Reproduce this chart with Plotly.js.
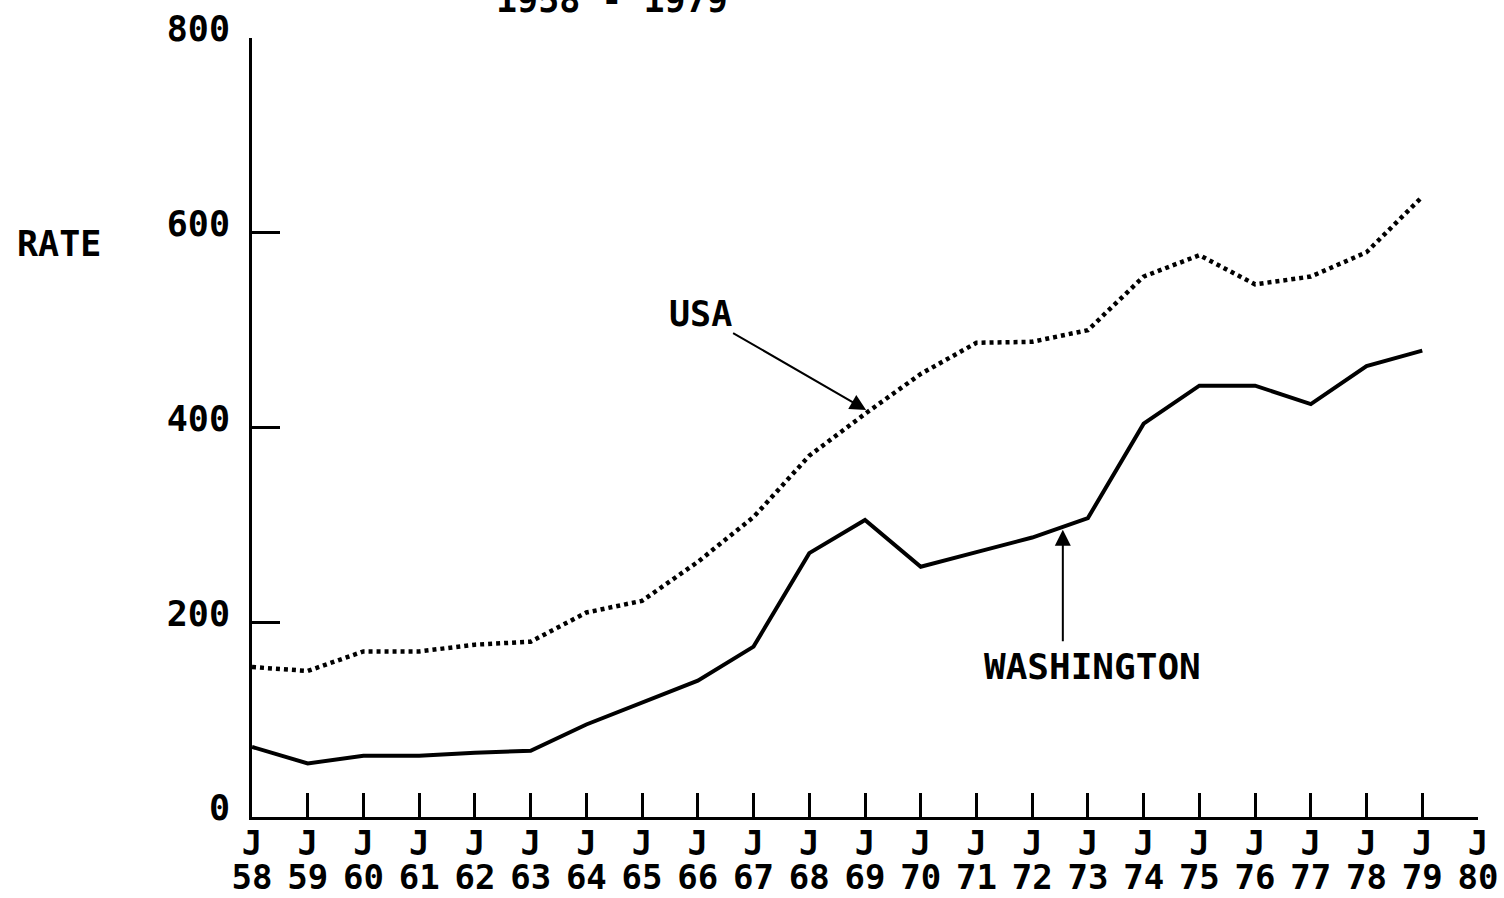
<!DOCTYPE html>
<html>
<head>
<meta charset="utf-8">
<script src="https://cdn.plot.ly/plotly-3.0.1.min.js"></script>
<style>html,body{margin:0;padding:0;background:#fff;}#chart{width:1504px;height:898px;}</style>
</head>
<body>
<div id="chart"></div>
<script>
const years = [58,59,60,61,62,63,64,65,66,67,68,69,70,71,72,73,74,75,76,77,78,79];
const usaRate = [154,150,170,170,177,180,210,222,262,308,371,414,455,487,488,500,555,577,547,555,580,637];
const washingtonRate = [72,55,63,63,66,68,95,118,140,175,271,305,257,272,287,307,404,443,443,424,463,479];
const tickYears = [58,59,60,61,62,63,64,65,66,67,68,69,70,71,72,73,74,75,76,77,78,79,80];
const tickJ = tickYears.map(() => 'J');
const tickYearText = tickYears.map(String);
const yTicks = [0,200,400,600,800];
const yTickText = ['0','200','400','600','800'];

const FONT = 'DejaVu Sans Mono';
const F = (s) => ({family: FONT, size: s, color: '#000', weight: 'bold'});
const traces = [
  {x: years, y: usaRate, xaxis: 'x', yaxis: 'y', mode: 'lines', name: 'USA',
   line: {color: '#000', width: 4.5, dash: '4px,4px'}},
  {x: years, y: washingtonRate, xaxis: 'x2', yaxis: 'y', mode: 'lines', name: 'WASHINGTON',
   line: {color: '#000', width: 4}}
];

const layout = {
  width: 1504, height: 898,
  margin: {l: 252, r: 26, t: 38, b: 81},
  paper_bgcolor: '#fff', plot_bgcolor: '#fff',
  showlegend: false,
  font: F(35),
  xaxis: {
    range: [58, 80], tickmode: 'array', tickvals: tickYears, ticktext: tickJ,
    showgrid: false, zeroline: false, showline: true, linecolor: '#000', linewidth: 3,
    ticks: 'inside', ticklen: 24, tickwidth: 3, tickcolor: '#000',
    ticklabelstandoff: -6, tickfont: F(34)
  },
  xaxis2: {
    range: [58, 80], overlaying: 'x', anchor: 'y', side: 'bottom',
    tickmode: 'array', tickvals: tickYears, ticktext: tickYearText,
    showgrid: false, zeroline: false, showline: false, ticks: '',
    ticklabelstandoff: 37, tickfont: F(34)
  },
  yaxis: {
    range: [0, 800], tickmode: 'array', tickvals: yTicks, ticktext: yTickText,
    showgrid: false, zeroline: false, showline: true, linecolor: '#000', linewidth: 3,
    ticks: 'inside', ticklen: 28, tickwidth: 3, tickcolor: '#000',
    ticklabelstandoff: 12, ticklabelshift: -9, tickfont: F(35)
  },
  annotations: [
    {text: '1958 - 1979', xref: 'paper', yref: 'paper', x: 0.294, y: 1.049,
     xanchor: 'center', yanchor: 'middle', showarrow: false, font: F(35)},
    {text: 'RATE', xref: 'paper', yref: 'paper', x: -0.193, y: 0.735,
     xanchor: 'left', yanchor: 'middle', showarrow: false, font: F(35)},
    {text: 'USA', xref: 'x', yref: 'y', x: 69.02, y: 418, ax: -166, ay: -96,
     showarrow: true, arrowhead: 2, arrowsize: 1.6, arrowwidth: 2, arrowcolor: '#000',
     font: F(35)},
    {text: 'WASHINGTON', xref: 'x', yref: 'y', x: 72.55, y: 295,
     showarrow: false, xshift: 30, yshift: -137,
     font: F(36)},
    {text: '', xref: 'x', yref: 'y', x: 72.55, y: 295, ax: 0, ay: 113,
     showarrow: true, arrowhead: 2, arrowsize: 1.6, arrowwidth: 2, arrowcolor: '#000',
     font: {family: FONT, size: 1, color: '#000'}}
  ]
};

Plotly.newPlot('chart', traces, layout, {displayModeBar: false, staticPlot: true});
</script>
</body>
</html>
